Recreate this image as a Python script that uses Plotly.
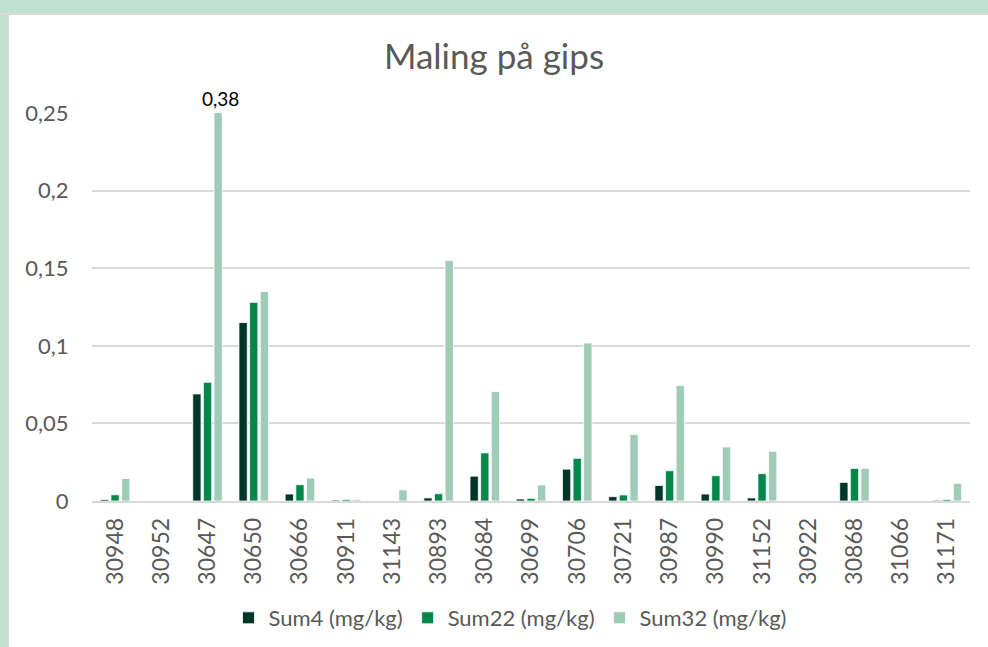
import plotly.graph_objects as go

categories = ["30948", "30952", "30647", "30650", "30666", "30911", "31143", "30893",
              "30684", "30699", "30706", "30721", "30987", "30990", "31152", "30922",
              "30868", "31066", "31171"]
sum4 = [0.001, 0, 0.069, 0.115, 0.0045, 0.0006, 0, 0.002, 0.016, 0.0013, 0.0205,
        0.0028, 0.010, 0.0045, 0.002, 0, 0.012, 0, 0.0005]
sum22 = [0.004, 0, 0.0765, 0.128, 0.0105, 0.001, 0, 0.0047, 0.031, 0.0017, 0.0275,
         0.0039, 0.0195, 0.0163, 0.0176, 0, 0.021, 0, 0.001]
sum32 = [0.0145, 0, 0.38, 0.135, 0.0148, 0.001, 0.0072, 0.155, 0.0705, 0.0103, 0.1018,
         0.0428, 0.0745, 0.0348, 0.032, 0, 0.021, 0, 0.0114]
series_names = ["Sum4 (mg/kg)", "Sum22 (mg/kg)", "Sum32 (mg/kg)"]
colors = ["#003629", "#00884a", "#a0cbb6"]
y_ticks = [0, 0.05, 0.1, 0.15, 0.2, 0.25]
clipped_label = "0,38"
clipped_category = "30647"

FONT = "Lato, Open Sans, sans-serif"
fig = go.Figure()
for name, vals, col in zip(series_names, [sum4, sum22, sum32], colors):
    fig.add_trace(go.Bar(x=categories, y=vals, name=name,
                         marker=dict(color=col, line=dict(color="white", width=0.8))))

# label for the clipped bar (category axes take the category index for annotations)
fig.add_annotation(x=categories.index(clipped_category), y=0.25, xref="x", yref="y",
                   text=clipped_label, showarrow=False,
                   yanchor="bottom", xshift=13, yshift=1,
                   font=dict(family=FONT, size=19, color="#000000"))

W, H = 988, 647
L, R, T, B = 92, 18, 113, 146
pw, ph = W - L - R, H - T - B

fig.update_layout(
    width=W, height=H,
    margin=dict(l=L, r=R, t=T, b=B, autoexpand=False),
    paper_bgcolor="rgba(0,0,0,0)", plot_bgcolor="white",
    separators=",.",
    barmode="group", bargap=0.31, bargroupgap=0.22,
    title=dict(text="Maling på gips", x=0.5, xanchor="center", y=1 - 57 / H, yanchor="middle",
               font=dict(family=FONT, size=35, color="#595959")),
    font=dict(family=FONT, color="#595959"),
    xaxis=dict(type="category", categoryorder="array", categoryarray=categories,
               range=[-0.5, len(categories) - 0.5], autorange=False,
               tickmode="array", tickvals=categories, ticktext=categories,
               tickangle=-90, tickfont=dict(size=23, color="#595959"),
               showline=True, linecolor="#d9d9d9", linewidth=1.5,
               ticks="outside", ticklen=6, tickcolor="rgba(0,0,0,0)", showgrid=False),
    yaxis=dict(range=[0, 0.25], autorange=False, tickvals=y_ticks, tickfont=dict(size=22, color="#595959"),
               showgrid=True, gridcolor="#d9d9d9", gridwidth=1.5, zeroline=False,
               showline=False, ticks="outside", ticklen=18, tickcolor="rgba(0,0,0,0)"),
    legend=dict(orientation="h", x=(510 - L) / pw, xanchor="center", y=(H - B - 618) / ph, yanchor="middle",
                font=dict(size=22, color="#595959"), traceorder="normal"),
    showlegend=True,
)

post = (
    "document.body.style.margin='0';"
    "document.body.style.background="
    "'linear-gradient(to bottom, #bfe1d2 0px, #bfe1d2 13px, #d9d9d9 13px, #d9d9d9 14.5px, rgba(255,255,255,0) 14.5px),"
    " linear-gradient(to right, #bfe1d2 0px, #bfe1d2 8px, #d9d9d9 8px, #d9d9d9 9.5px, rgba(255,255,255,0) 9.5px), #ffffff';"
    "document.body.style.minHeight='647px';"
)
fig.write_html("out.html", post_script=post, config={"displayModeBar": False})
